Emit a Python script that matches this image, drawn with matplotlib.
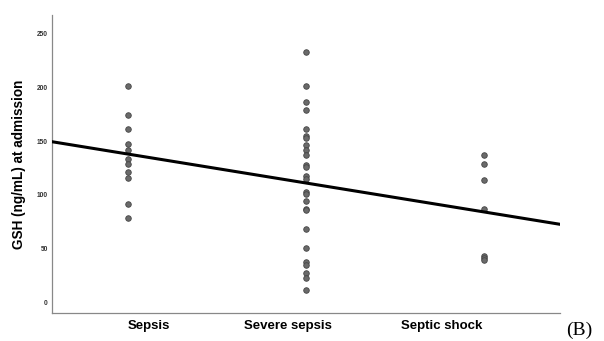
import matplotlib
matplotlib.use('Agg')
import matplotlib.pyplot as plt
import numpy as np

plt.rcParams['font.family'] = ['Liberation Sans', 'DejaVu Sans']

###############################################################
# data
###############################################################
groups = ['Sepsis', 'Severe sepsis', 'Septic shock']

sepsis = [200.9, 174.4, 161.1, 147.0, 141.4, 133.1, 129.0, 121.6, 115.5, 91.4, 78.4]
severe_sepsis = [232.1, 200.9, 186.4, 178.7, 161.4, 154.6, 152.8, 146.3, 141.7, 137.0,
                 128.0, 125.6, 117.9, 114.5, 102.8, 100.6, 94.4, 87.0, 86.1, 68.8,
                 50.6, 37.7, 35.2, 27.5, 23.4, 12.0]
septic_shock = [137.0, 128.7, 113.6, 86.8, 43.5, 41.4, 39.8]

# fit line: value at group 2 and slope per group
fit_mid = 111.1
fit_slope = -26.8

# where the category labels sit (SPSS puts them off the dot columns)
label_pos = [1.118, 1.90, 2.76]

###############################################################
# figure
###############################################################
fig = plt.figure(figsize=(6.04, 3.41), dpi=100)
ax = fig.add_axes([52 / 604, 28 / 341, 508 / 604, 298 / 341])

xmin, xmax = 0.573, 3.427
ax.set_xlim(xmin, xmax)
ax.set_ylim(-9.3, 266.7)

for i, vals in enumerate([sepsis, severe_sepsis, septic_shock]):
    ax.scatter(np.full(len(vals), i + 1), vals, s=16, color='#6a6a6a',
               edgecolors='#454545', linewidths=0.6, zorder=2)

xs = np.array([xmin, xmax])
ax.plot(xs, fit_mid + fit_slope * (xs - 2), color='black', linewidth=2.2, zorder=3)

ax.spines['top'].set_visible(False)
ax.spines['right'].set_visible(False)
for s in ['left', 'bottom']:
    ax.spines[s].set_color('#888888')
    ax.spines[s].set_linewidth(0.9)

ax.set_yticks(np.arange(0, 251, 50))
ax.tick_params(axis='y', length=0, pad=3, labelsize=4.8, labelcolor='#333333')
for t in ax.get_yticklabels():
    t.set_fontweight('bold')

ax.set_xticks(label_pos)
ax.set_xticklabels(groups, fontsize=9.5, fontweight='bold')
ax.tick_params(axis='x', length=0, pad=5)

ax.set_ylabel('GSH (ng/mL) at admission', fontsize=9.8, fontweight='bold', labelpad=8)

fig.text(566 / 604, 1 - 322 / 341, '(B)', family='Liberation Serif', fontsize=14,
         ha='left', va='top')

fig.savefig('out.png', dpi=100)
